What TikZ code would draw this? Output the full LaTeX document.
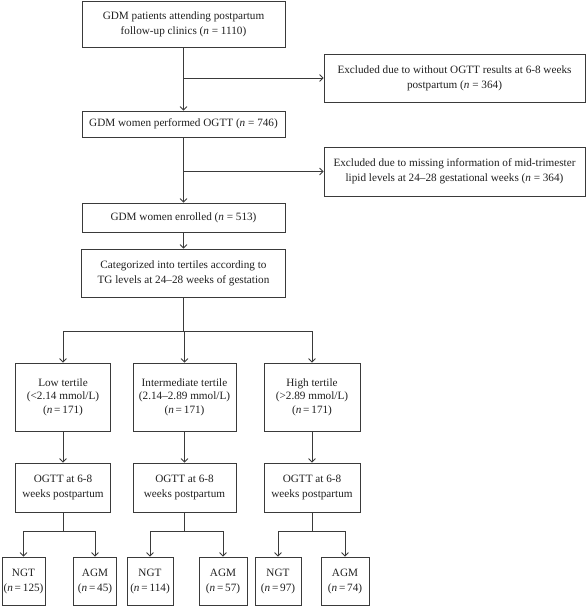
\documentclass[tikz,border=0pt]{standalone}
\usepackage{fontspec}
\setmainfont{Liberation Serif}
\usetikzlibrary{arrows.meta,calc}
\definecolor{linec}{HTML}{3A3A3A}
\newcommand{\nn}[1]{(\textit{n}\,=\,#1)}
\begin{document}
\begin{tikzpicture}[x=1pt,y=-1pt,
  box/.style={draw=linec, line width=0.8pt, rectangle, align=center, inner sep=1pt,
    font=\fontsize{11.2}{15}\selectfont, text=black!88},
  tbox/.style={box, font=\fontsize{11.2}{13.5}\selectfont},
  arr/.style={draw=linec, line width=0.8pt, -{Straight Barb[length=3.5pt,width=7pt]}},
  ln/.style={draw=linec, line width=0.8pt}]
\useasboundingbox (0,0) rectangle (587,606);

% main column
\node[box, minimum width=203pt, minimum height=46pt] (top) at (183.5,24)
  {GDM patients attending postpartum\\follow-up clinics (\textit{n} = 1110)};
\node[box, minimum width=203pt, minimum height=26pt] (ogtt) at (183.5,124)
  {GDM women performed OGTT (\textit{n} = 746)};
\node[box, minimum width=203pt, minimum height=29pt] (enr) at (183.5,217.5)
  {GDM women enrolled (\textit{n} = 513)};
\node[box, minimum width=204pt, minimum height=48pt] (cat) at (183.5,273)
  {Categorized into tertiles according to\\TG levels at 24–28 weeks of gestation};

% exclusions
\node[box, minimum width=261pt, minimum height=48pt] (ex1) at (454.5,78)
  {Excluded due to without OGTT results at 6-8 weeks\\postpartum (\textit{n} = 364)};
\node[box, minimum width=261pt, minimum height=49pt] (ex2) at (454.5,171.5)
  {Excluded due to missing information of mid-trimester\\lipid levels at 24–28 gestational weeks (\textit{n} = 364)};

% tertiles
\node[tbox, minimum width=95pt, minimum height=68pt] (low) at (63,397)
  {Low tertile\\(<2.14 mmol/L)\\\nn{171}};
\node[tbox, minimum width=103pt, minimum height=68pt] (mid) at (184.5,397)
  {Intermediate tertile\\(2.14–2.89 mmol/L)\\\nn{171}};
\node[tbox, minimum width=96pt, minimum height=68pt] (high) at (312,397)
  {High tertile\\(>2.89 mmol/L)\\\nn{171}};

% OGTT follow-ups
\node[box, minimum width=95pt, minimum height=49pt] (ogl) at (63,487.5)
  {OGTT at 6-8\\weeks postpartum};
\node[box, minimum width=103pt, minimum height=49pt] (ogm) at (184.5,487.5)
  {OGTT at 6-8\\weeks postpartum};
\node[box, minimum width=96pt, minimum height=49pt] (ogh) at (312,487.5)
  {OGTT at 6-8\\weeks postpartum};

% outcomes
\node[box, minimum width=43pt, minimum height=48pt] (ngt1) at (23.5,581)
  {NGT\\\nn{125}};
\node[box, minimum width=43pt, minimum height=48pt] (agm1) at (95,581)
  {AGM\\\nn{45}};
\node[box, minimum width=46pt, minimum height=48pt] (ngt2) at (150,581)
  {NGT\\\nn{114}};
\node[box, minimum width=48pt, minimum height=48pt] (agm2) at (223,581)
  {AGM\\\nn{57}};
\node[box, minimum width=46pt, minimum height=48pt] (ngt3) at (278,581)
  {NGT\\\nn{97}};
\node[box, minimum width=48pt, minimum height=48pt] (agm3) at (345,581)
  {AGM\\\nn{74}};

% connectors, main column
\draw[arr] (top) -- (ogtt);
\draw[arr] (top.south |- ex1.west) -- (ex1.west);
\draw[arr] (ogtt) -- (enr);
\draw[arr] (ogtt.south |- ex2.west) -- (ex2.west);
\draw[arr] (enr) -- (cat);

\coordinate (split) at (183.5,331);
\draw[ln] (cat.south) -- (split);
\draw[arr] (split) -| (low.north);
\draw[arr] (split) -| (mid.north);
\draw[arr] (split) -| (high.north);

\draw[arr] (low) -- (ogl);
\draw[arr] (mid) -- (ogm);
\draw[arr] (high) -- (ogh);

\coordinate (s1) at ($(ogl.south)+(0,19)$);
\coordinate (s2) at ($(ogm.south)+(0,19)$);
\coordinate (s3) at ($(ogh.south)+(0,19)$);
\draw[ln] (ogl.south) -- (s1);
\draw[ln] (ogm.south) -- (s2);
\draw[ln] (ogh.south) -- (s3);
\draw[arr] (s1) -| (ngt1.north);
\draw[arr] (s1) -| (agm1.north);
\draw[arr] (s2) -| (ngt2.north);
\draw[arr] (s2) -| (agm2.north);
\draw[arr] (s3) -| (ngt3.north);
\draw[arr] (s3) -| (agm3.north);
\end{tikzpicture}
\end{document}
